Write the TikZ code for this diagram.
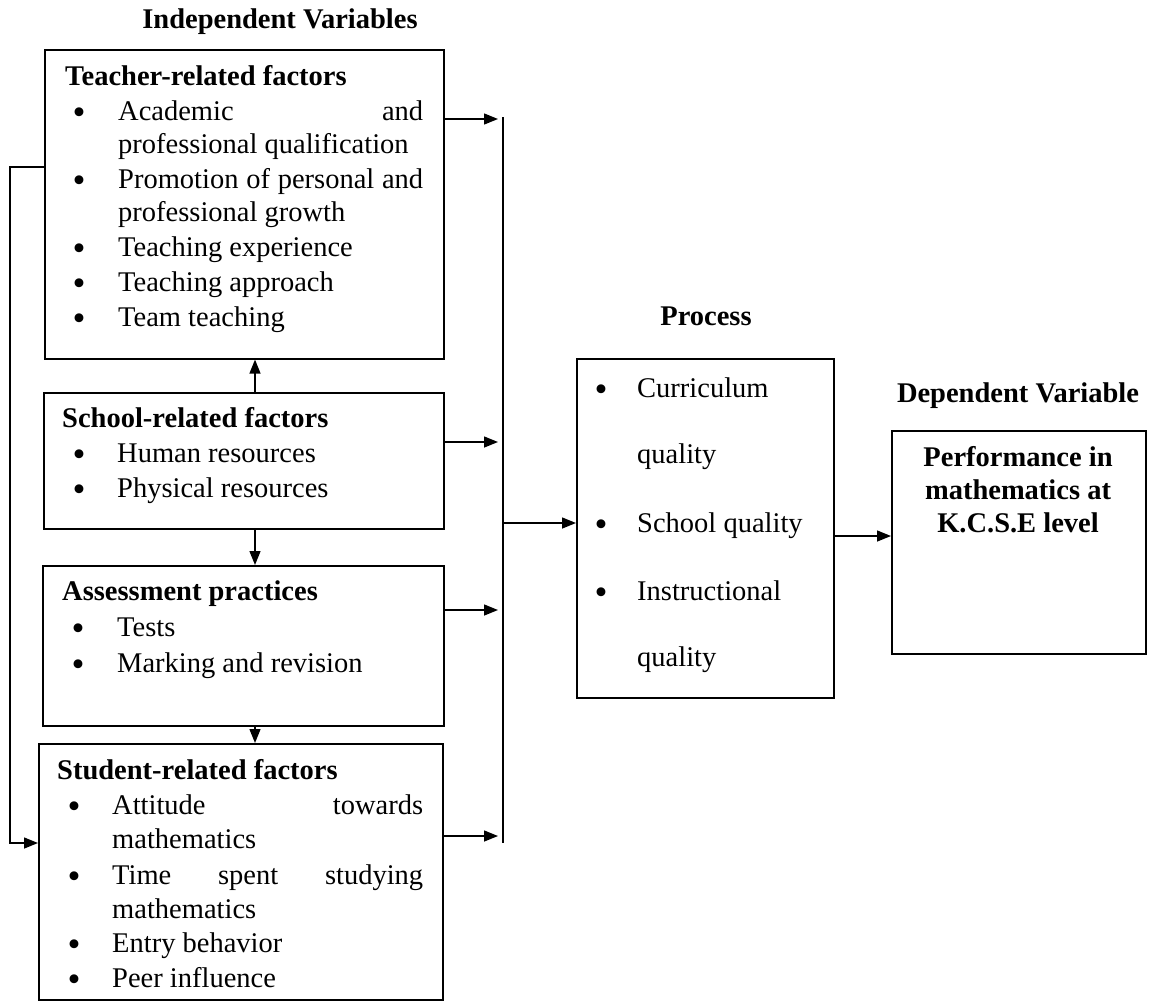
\documentclass[tikz,border=0pt]{standalone}
\usepackage{fontspec}
\setmainfont{Liberation Serif}
\usetikzlibrary{arrows.meta}
\newcommand\myfs{\fontsize{28.5}{34}\selectfont}
\newcommand\mybul{\raisebox{-4pt}{\fontsize{37}{37}\selectfont •}}
\begin{document}
\begin{tikzpicture}[x=1pt,y=-1pt,
  box/.style={draw, line width=1.6pt, inner sep=0pt, anchor=north west},
  txt/.style={anchor=base west, inner sep=0pt, font=\myfs},
  hd/.style={anchor=base west, inner sep=0pt, font=\myfs\bfseries},
  ctr/.style={anchor=base, inner sep=0pt, font=\myfs\bfseries},
  bul/.style={anchor=base, inner sep=0pt, font=\myfs},
  arr/.style={line width=1.4pt, -{Triangle[length=14pt,width=11pt]}},
  ln/.style={line width=1.4pt}]
\useasboundingbox (0,0) rectangle (1155,1001);

% titles
\node[ctr] (tind) at (280,28) {Independent Variables};
\node[ctr] (tproc) at (706,325) {Process};
\node[ctr] (tdep) at (1018,402) {Dependent Variable};

% boxes
\node[box, minimum width=399pt, minimum height=309pt] (teacher) at (44,49) {};
\node[box, minimum width=400pt, minimum height=136pt] (school) at (43,392) {};
\node[box, minimum width=401pt, minimum height=160pt] (assess) at (42,565) {};
\node[box, minimum width=404pt, minimum height=256pt] (student) at (38,743) {};
\node[box, minimum width=257pt, minimum height=339pt] (proc) at (576,358) {};
\node[box, minimum width=254pt, minimum height=223pt] (dep) at (891,430) {};

% teacher box text
\node[hd] (th) at (65,85) {Teacher-related factors};
\node[bul] (tb1) at (79,120) {\mybul};
\node[txt] (t1) at (118,120) {\hbox to 305pt{Academic\hfill and}};
\node[txt] (t1b) at (118,153) {professional qualification};
\node[bul] (tb2) at (79,188) {\mybul};
\node[txt] (t2) at (118,188) {\hbox to 305pt{Promotion\hfill of\hfill personal\hfill and}};
\node[txt] (t2b) at (118,221) {professional growth};
\node[bul] (tb3) at (79,256) {\mybul};
\node[txt] (t3) at (118,256) {Teaching experience};
\node[bul] (tb4) at (79,291) {\mybul};
\node[txt] (t4) at (118,291) {Teaching approach};
\node[bul] (tb5) at (79,326) {\mybul};
\node[txt] (t5) at (118,326) {Team teaching};

% school box text
\node[hd] (sh) at (62,427) {School-related factors};
\node[bul] (sb1) at (79,462) {\mybul};
\node[txt] (s1) at (117,462) {Human resources};
\node[bul] (sb2) at (79,497) {\mybul};
\node[txt] (s2) at (117,497) {Physical resources};

% assessment box text
\node[hd] (ah) at (62,600) {Assessment practices};
\node[bul] (ab1) at (78,636) {\mybul};
\node[txt] (a1) at (117,636) {Tests};
\node[bul] (ab2) at (78,672) {\mybul};
\node[txt] (a2) at (117,672) {Marking and revision};

% student box text
\node[hd] (uh) at (57,779) {Student-related factors};
\node[bul] (ub1) at (74,814) {\mybul};
\node[txt] (u1) at (112,814) {\hbox to 311pt{Attitude\hfill towards}};
\node[txt] (u1b) at (112,848) {mathematics};
\node[bul] (ub2) at (74,884) {\mybul};
\node[txt] (u2) at (112,884) {\hbox to 311pt{Time\hfill spent\hfill studying}};
\node[txt] (u2b) at (112,918) {mathematics};
\node[bul] (ub3) at (74,952) {\mybul};
\node[txt] (u3) at (112,952) {Entry behavior};
\node[bul] (ub4) at (74,987) {\mybul};
\node[txt] (u4) at (112,987) {Peer influence};

% process box text
\node[bul] (pb1) at (601,397) {\mybul};
\node[txt] (p1) at (637,397) {Curriculum};
\node[txt] (p1b) at (637,463) {quality};
\node[bul] (pb2) at (601,532) {\mybul};
\node[txt] (p2) at (637,532) {School quality};
\node[bul] (pb3) at (601,600) {\mybul};
\node[txt] (p3) at (637,600) {Instructional};
\node[txt] (p3b) at (637,666) {quality};

% dependent box text
\node[ctr] (d1) at (1018,466) {Performance in};
\node[ctr] (d2) at (1018,499) {mathematics at};
\node[ctr] (d3) at (1018,532) {K.C.S.E level};

% coordinates for connectors
\coordinate (ctop) at (503,117);
\coordinate (cbot) at (503,843);
\coordinate (e1) at (498,119);
\coordinate (e2) at (498,442);
\coordinate (e3) at (498,610);
\coordinate (e4) at (498,836);
\coordinate (pin) at (503,523);
\coordinate (dy) at (860,536);
\coordinate (vx) at (255,0);
\coordinate (lp1) at (10,167);
\coordinate (lp2) at (10,843);

% collector
\draw[ln] (ctop) -- (cbot);
\draw[arr] (teacher.east |- e1) -- (e1);
\draw[arr] (school.east |- e2) -- (e2);
\draw[arr] (assess.east |- e3) -- (e3);
\draw[arr] (student.east |- e4) -- (e4);
\draw[arr] (pin) -- (proc.west |- pin);
\draw[arr] (proc.east |- dy) -- (dep.west |- dy);

% vertical links
\draw[arr] (school.north -| vx) -- (teacher.south -| vx);
\draw[arr] (school.south -| vx) -- (assess.north -| vx);
\draw[arr] (assess.south -| vx) -- (student.north -| vx);

% left loop
\draw[arr] (teacher.west |- lp1) -- (lp1) -- (lp2) -- (student.west |- lp2);
\end{tikzpicture}
\end{document}
